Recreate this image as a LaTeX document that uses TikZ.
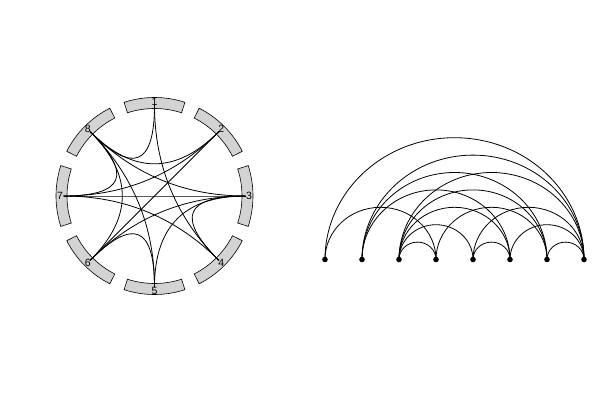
\documentclass[tikz,border=0pt]{standalone}
\usepackage{fontspec}
\setmainfont{Liberation Sans}
\usetikzlibrary{calc}
\definecolor{sectorgray}{HTML}{D3D3D3}
\begin{document}
\begin{tikzpicture}[x=1pt,y=1pt,
  sector/.style={fill=sectorgray, draw=black, line width=0.6pt},
  chord/.style={draw=black, line width=0.8pt},
  arcedge/.style={draw=black, line width=0.8pt},
  dot/.style={circle, fill=black, inner sep=0pt, minimum size=5.6pt},
  lab/.style={font=\fontsize{10.5}{12}\selectfont, inner sep=0pt}]
\useasboundingbox (0,0) rectangle (600,400);
% ---------- chord diagram ----------
\coordinate (c) at (154.5,204);
\foreach \i/\a in {1/90,2/45,3/0,4/-45,5/-90,6/-135,7/180,8/135} {
  \path[sector] ($(c)+(\a-18:87.5pt)$) arc[start angle=\a-18, end angle=\a+18, radius=87.5pt]
     -- ($(c)+(\a+18:98.5pt)$) arc[start angle=\a+18, end angle=\a-18, radius=98.5pt] -- cycle;
  \node[lab] (l\i) at ($(c)+(\a:94.5pt)$) {\i};
  \coordinate (p\i) at ($(c)+(\a:91pt)$);
}
\foreach \u/\v in {1/4,1/8,2/6,2/7,2/8,3/4,3/5,3/6,3/7,3/8,4/7,5/6,5/8,6/8,7/8} {
  \draw[chord] (p\u) .. controls ($(p\u)!0.6667!(c)$) and ($(p\v)!0.6667!(c)$) .. (p\v);
}
% ---------- arc diagram ----------
\foreach \i in {1,...,8} {
  \node[dot] (q\i) at ({325+37*(\i-1)},140.5) {};
}
\foreach \u/\v in {1/4,1/8,2/6,2/7,2/8,3/4,3/5,3/6,3/7,3/8,4/7,5/6,5/8,6/8,7/8} {
  \draw[arcedge] (q\u.center) arc[start angle=180, end angle=0, x radius={18.5*(\v-\u)}, y radius={17.4*(\v-\u)}];
}
\end{tikzpicture}
\end{document}
